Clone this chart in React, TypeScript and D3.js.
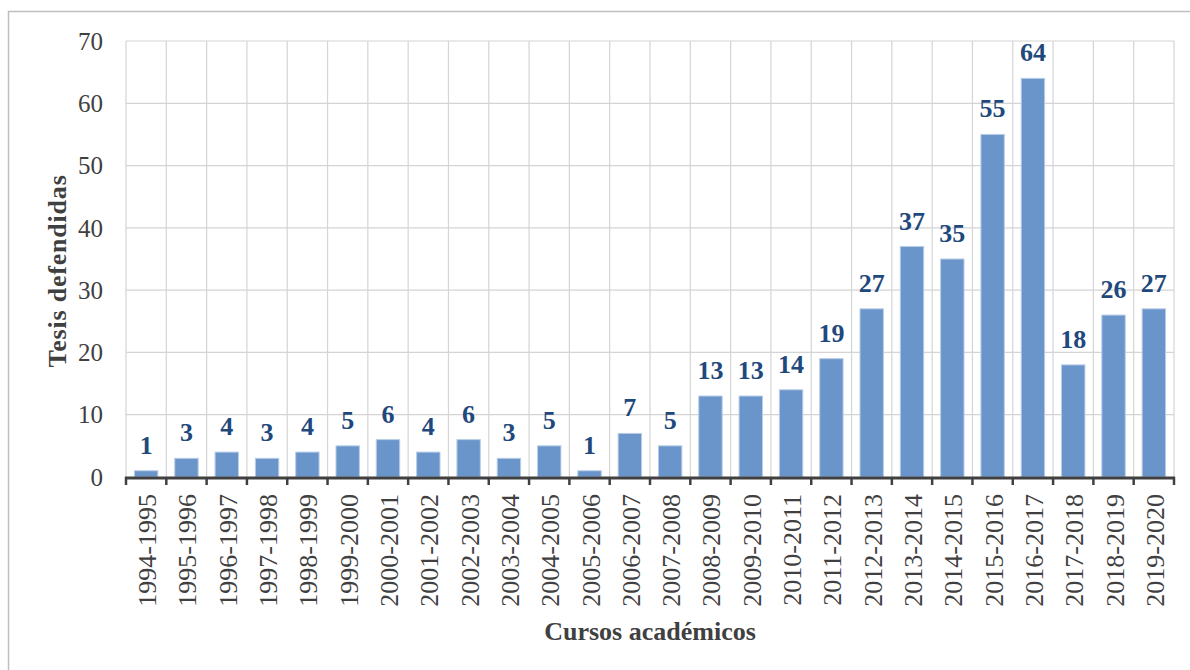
import { useEffect, useRef } from 'react';
import * as d3 from 'd3';

const cursos = [
  '1994-1995', '1995-1996', '1996-1997', '1997-1998', '1998-1999', '1999-2000',
  '2000-2001', '2001-2002', '2002-2003', '2003-2004', '2004-2005', '2005-2006',
  '2006-2007', '2007-2008', '2008-2009', '2009-2010', '2010-2011', '2011-2012',
  '2012-2013', '2013-2014', '2014-2015', '2015-2016', '2016-2017', '2017-2018',
  '2018-2019', '2019-2020',
];
const tesis = [1, 3, 4, 3, 4, 5, 6, 4, 6, 3, 5, 1, 7, 5, 13, 13, 14, 19, 27, 37, 35, 55, 64, 18, 26, 27];
const yTicks = [0, 10, 20, 30, 40, 50, 60, 70];

const W = 1190;
const H = 670;
const serif = "'Liberation Serif', 'DejaVu Serif', serif";

export default function App() {
  const svgRef = useRef<SVGSVGElement>(null);

  useEffect(() => {
    if (!svgRef.current) return;
    const svg = d3.select(svgRef.current);
    svg.selectAll('*').remove();

    const left = 126, right = 1174, top = 41, bottom = 477;

    // outer frame
    svg.append('rect')
      .attr('x', 8.5).attr('y', 11.5)
      .attr('width', W + 10).attr('height', H)
      .attr('fill', '#fff')
      .attr('stroke', '#bfbfbf')
      .attr('stroke-width', 1.5);

    const x = d3.scaleBand<string>().domain(cursos).range([left, right]).paddingInner(0.42).paddingOuter(0.21);
    const y = d3.scaleLinear().domain([0, 70]).range([bottom, top]);
    const step = x.step();

    // horizontal grid
    svg.append('g').selectAll('line')
      .data(yTicks.filter(t => t > 0))
      .enter().append('line')
      .attr('x1', left).attr('x2', right)
      .attr('y1', d => y(d)).attr('y2', d => y(d))
      .attr('stroke', '#d4d4d4').attr('stroke-width', 1.2);

    // vertical grid at category boundaries
    const bounds = d3.range(cursos.length + 1).map(i => left + i * step);
    svg.append('g').selectAll('line')
      .data(bounds)
      .enter().append('line')
      .attr('x1', d => d).attr('x2', d => d)
      .attr('y1', top).attr('y2', bottom)
      .attr('stroke', '#d4d4d4').attr('stroke-width', 1.2);

    // bars
    svg.append('g').selectAll('rect')
      .data(tesis)
      .enter().append('rect')
      .attr('x', (d, i) => x(cursos[i])!)
      .attr('y', d => y(d))
      .attr('width', x.bandwidth())
      .attr('height', d => bottom - y(d))
      .attr('fill', '#6a95ca')
      .attr('stroke', '#b8cce6')
      .attr('stroke-width', 1);

    // value labels
    svg.append('g').selectAll('text')
      .data(tesis)
      .enter().append('text')
      .attr('x', (d, i) => x(cursos[i])! + x.bandwidth() / 2)
      .attr('y', d => y(d) - 17)
      .attr('text-anchor', 'middle')
      .style('font-family', serif)
      .attr('font-weight', 'bold')
      .attr('font-size', 26)
      .attr('fill', '#1f497d')
      .text(d => d);

    // x axis line + ticks
    svg.append('line')
      .attr('x1', left - 1).attr('x2', right + 1)
      .attr('y1', bottom + 1).attr('y2', bottom + 1)
      .attr('stroke', '#404040').attr('stroke-width', 3);
    svg.append('g').selectAll('line')
      .data(bounds)
      .enter().append('line')
      .attr('x1', d => d).attr('x2', d => d)
      .attr('y1', bottom).attr('y2', bottom + 8)
      .attr('stroke', '#404040').attr('stroke-width', 2.5);

    // y tick labels
    svg.append('g').selectAll('text')
      .data(yTicks)
      .enter().append('text')
      .attr('x', 103)
      .attr('y', d => y(d))
      .attr('dy', '0.35em')
      .attr('text-anchor', 'end')
      .style('font-family', serif)
      .attr('font-size', 25)
      .attr('fill', '#404040')
      .text(d => d);

    // x tick labels
    svg.append('g').selectAll('text')
      .data(cursos)
      .enter().append('text')
      .attr('transform', d => `translate(${x(d)! + x.bandwidth() / 2 + 10},${bottom + 17}) rotate(-90)`)
      .attr('text-anchor', 'end')
      .style('font-family', serif)
      .attr('font-size', 26)
      .attr('fill', '#404040')
      .text(d => d);

    // axis titles
    svg.append('text')
      .attr('x', 650).attr('y', 640)
      .attr('text-anchor', 'middle')
      .style('font-family', serif)
      .attr('font-weight', 'bold')
      .attr('font-size', 26)
      .attr('fill', '#404040')
      .text('Cursos académicos');

    svg.append('text')
      .attr('transform', `translate(66,271) rotate(-90)`)
      .attr('text-anchor', 'middle')
      .style('font-family', serif)
      .attr('font-weight', 'bold')
      .attr('font-size', 26)
      .attr('letter-spacing', 0.8)
      .attr('fill', '#404040')
      .text('Tesis defendidas');
  }, []);

  return (
    <svg
      ref={svgRef}
      width={W}
      height={H}
      style={{ position: 'absolute', left: 0, top: 0, background: '#fff' }}
    />
  );
}
